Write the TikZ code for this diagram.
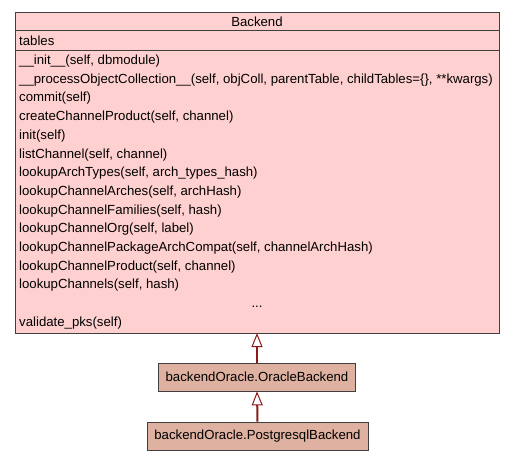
\documentclass[tikz,border=0pt]{standalone}
\usepackage{fontspec}
\setmainfont{Liberation Sans}
\usetikzlibrary{arrows.meta}
\definecolor{classfill}{HTML}{FFD0D0}
\definecolor{subfill}{HTML}{DFB1A0}
\definecolor{inherit}{HTML}{8B1A1A}
\begin{document}
\begin{tikzpicture}[x=1pt,y=-1pt,
  txt/.style={font=\fontsize{13.2}{15}\selectfont, inner sep=0pt, anchor=base west},
  boxline/.style={draw=black!75, line width=0.8pt},
  inh/.style={draw=inherit, line width=2pt, -{Triangle[open, length=14pt, width=11pt, line width=1pt, fill=white]}}]
  \useasboundingbox (0,0) rectangle (515,461);
  % Backend class box
  \fill[classfill] (15,12) rectangle (499,333);
  \draw[boxline] (15,12) rectangle (499,333);
  \draw[boxline] (15,30) -- (499,30);
  \draw[boxline] (15,50) -- (499,50);
  \node[txt, anchor=base] (title) at (257,26) {Backend};
  \node[txt] (attr) at (19,45) {tables};
  \foreach \t [count=\i from 0] in {
    {\_\_init\_\_(self, dbmodule)},
    {\_\_processObjectCollection\_\_(self, objColl, parentTable, childTables=\{\}, **kwargs)},
    {commit(self)},
    {createChannelProduct(self, channel)},
    {init(self)},
    {listChannel(self, channel)},
    {lookupArchTypes(self, arch\_types\_hash)},
    {lookupChannelArches(self, archHash)},
    {lookupChannelFamilies(self, hash)},
    {lookupChannelOrg(self, label)},
    {lookupChannelPackageArchCompat(self, channelArchHash)},
    {lookupChannelProduct(self, channel)},
    {lookupChannels(self, hash)}}
    \node[txt] (m\i) at (19,{64.5+\i*18.7}) {\t};
  \node[txt, anchor=base] (dots) at (257,307) {...};
  \node[txt] (validate) at (19,326) {validate\_pks(self)};
  \coordinate (backendbottom) at (257,333);
  % Subclasses
  \node[boxline, fill=subfill, minimum width=197pt, minimum height=28pt, inner sep=0pt,
        font=\fontsize{13.2}{15}\selectfont] (oracle) at (257,377) {backendOracle.OracleBackend};
  \node[boxline, fill=subfill, minimum width=221pt, minimum height=28pt, inner sep=0pt,
        font=\fontsize{13.2}{15}\selectfont] (postgres) at (257.5,436) {backendOracle.PostgresqlBackend};
  % Inheritance arrows
  \draw[inh] (oracle.north) -- (backendbottom);
  \draw[inh] (postgres.north) -- (oracle.south);
\end{tikzpicture}
\end{document}
